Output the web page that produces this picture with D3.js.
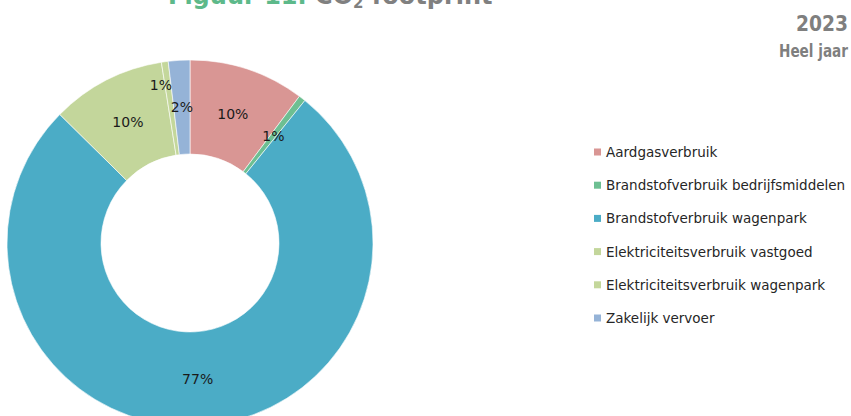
<!DOCTYPE html>
<html>
<head>
<meta charset="utf-8">
<script src="https://cdn.jsdelivr.net/npm/d3@7"></script>
<style>
  html, body { margin: 0; padding: 0; background: #fff; }
  svg { display: block; }
</style>
</head>
<body>
<svg id="chart" width="851" height="416"></svg>
<script>
// ---- data ----
const categories = [
  "Aardgasverbruik",
  "Brandstofverbruik bedrijfsmiddelen",
  "Brandstofverbruik wagenpark",
  "Elektriciteitsverbruik vastgoed",
  "Elektriciteitsverbruik wagenpark",
  "Zakelijk vervoer"
];
const values = [10.2, 0.6, 76.6, 10.1, 0.6, 1.9];
const colors = ["#D99694", "#6DBF92", "#4BACC6", "#C3D69B", "#C4D79B", "#95B3D7"];
const titleParts = ["Figuur 11. ", "CO", "2", " footprint"];
const yearLabel = "2023";
const periodLabel = "Heel jaar";

// ---- layout ----
const svg = d3.select("#chart");
const cx = 190, cy = 243, rOuter = 183, rInner = 89;
const fontFam = "'DejaVu Sans', Verdana, sans-serif";

const data = categories.map((c, i) => ({ name: c, value: values[i], color: colors[i], i }));
const total = d3.sum(values);

const pie = d3.pie().value(d => d.value).sort(null).startAngle(0).endAngle(2 * Math.PI);
const arcs = pie(data);
const arc = d3.arc().innerRadius(rInner).outerRadius(rOuter);

const g = svg.append("g").attr("transform", `translate(${cx},${cy})`);
g.selectAll("path.slice")
  .data(arcs)
  .join("path")
  .attr("class", "slice")
  .attr("d", arc)
  .attr("fill", d => d.data.color)
  .attr("stroke", "#ffffff")
  .attr("stroke-width", 0.6);

// data labels
const fmt = v => Math.round(v / total * 100) + "%";
g.selectAll("text.lbl")
  .data(arcs)
  .join("text")
  .attr("class", "lbl")
  .attr("transform", d => {
    const mid = (d.startAngle + d.endAngle) / 2;
    let r = (rInner + rOuter) / 2;
    let dx = 0;
    if (d.data.i === 4) { r = 160; dx = -7; }
    const x = r * Math.sin(mid) + dx;
    const y = -r * Math.cos(mid);
    return `translate(${x},${y})`;
  })
  .attr("text-anchor", "middle")
  .attr("dominant-baseline", "central")
  .attr("font-family", fontFam)
  .attr("font-size", 14)
  .attr("fill", "#1a1a1a")
  .text(d => fmt(d.data.value));

// title (partly clipped at top, as in the reference)
const title = svg.append("text")
  .attr("x", 168).attr("y", 4)
  .attr("font-family", fontFam)
  .attr("font-weight", "bold")
  .attr("font-size", 24);
title.append("tspan").attr("fill", "#5DB98A").text(titleParts[0]);
title.append("tspan").attr("fill", "#808080").text(titleParts[1]);
title.append("tspan").attr("fill", "#808080").attr("font-size", 15).attr("dy", 4).text(titleParts[2]);
title.append("tspan").attr("fill", "#808080").attr("dy", -4).text(titleParts[3]);

// year / period
svg.append("text")
  .attr("x", 848).attr("y", 31)
  .attr("text-anchor", "end")
  .attr("font-family", fontFam)
  .attr("font-weight", "bold")
  .attr("font-size", 22)
  .attr("textLength", 52)
  .attr("lengthAdjust", "spacingAndGlyphs")
  .attr("fill", "#7F7F7F")
  .text(yearLabel);
svg.append("text")
  .attr("x", 848).attr("y", 57)
  .attr("text-anchor", "end")
  .attr("font-family", fontFam)
  .attr("font-weight", "bold")
  .attr("font-size", 17)
  .attr("textLength", 69)
  .attr("lengthAdjust", "spacingAndGlyphs")
  .attr("fill", "#7F7F7F")
  .text(periodLabel);

// legend
const legY = d3.scalePoint().domain(d3.range(categories.length)).range([152, 318]);
const leg = svg.append("g");
const items = leg.selectAll("g.item").data(data).join("g").attr("class", "item")
  .attr("transform", d => `translate(594,${legY(d.i)})`);
items.append("rect")
  .attr("x", 0).attr("y", -3.5).attr("width", 7).attr("height", 7)
  .attr("fill", d => d.color);
items.append("text")
  .attr("x", 12).attr("y", 0)
  .attr("dominant-baseline", "central")
  .attr("font-family", fontFam)
  .attr("font-size", 13.5)
  .attr("fill", "#262626")
  .text(d => d.name);
</script>
</body>
</html>
